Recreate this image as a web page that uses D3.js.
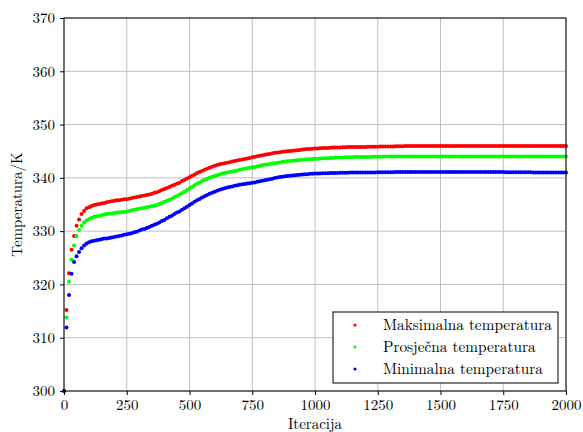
<!DOCTYPE html>
<html>
<head>
<meta charset="utf-8">
<script src="https://cdn.jsdelivr.net/npm/d3@7"></script>
<style>
  body { margin: 0; background: #fff; }
</style>
</head>
<body>
<script>
// Iterations, one point every 10 steps (0 .. 2000).
const iterations = d3.range(0, 2001, 10);

const maxTemp = [
  300.0, 315.2, 322.1, 326.5, 329.1, 331.0, 332.2, 333.2, 333.8, 334.3,
  334.5, 334.7, 334.9, 335.0, 335.1, 335.2, 335.3, 335.4, 335.5, 335.6,
  335.7, 335.8, 335.8, 335.9, 336.0, 336.0, 336.1, 336.2, 336.3, 336.4,
  336.5, 336.6, 336.7, 336.8, 336.9, 337.0, 337.2, 337.3, 337.5, 337.7,
  337.9, 338.1, 338.3, 338.5, 338.7, 338.9, 339.1, 339.4, 339.6, 339.9,
  340.1, 340.4, 340.6, 340.9, 341.1, 341.3, 341.5, 341.7, 341.9, 342.1,
  342.25, 342.4, 342.55, 342.65, 342.75, 342.85, 342.95, 343.05, 343.15, 343.25,
  343.35, 343.45, 343.55, 343.65, 343.75, 343.85, 343.95, 344.05, 344.15, 344.25,
  344.35, 344.45, 344.5, 344.6, 344.7, 344.75, 344.8, 344.9, 344.95, 345.0,
  345.05, 345.1, 345.15, 345.2, 345.25, 345.3, 345.35, 345.4, 345.4, 345.45,
  345.5, 345.5, 345.55, 345.6, 345.6, 345.6, 345.65, 345.7, 345.7, 345.7,
  345.7, 345.75, 345.75, 345.8, 345.8, 345.8, 345.8, 345.8, 345.8, 345.8,
  345.8, 345.85, 345.85, 345.85, 345.85, 345.85, 345.9, 345.9, 345.9, 345.9,
  345.9, 345.9, 345.95, 345.95, 345.95, 345.95, 346.0, 346.0, 346.0, 346.0,
  346.0, 346.0, 346.0, 346.0, 346.0, 346.0, 346.0, 346.0, 346.0, 346.0,
  346.0, 346.0, 346.0, 346.0, 346.0, 346.0, 346.0, 346.0, 346.0, 346.0,
  346.0, 346.0, 346.0, 346.0, 346.0, 346.0, 346.0, 346.0, 346.0, 346.0,
  346.0, 346.0, 346.0, 346.0, 346.0, 346.0, 346.0, 346.0, 346.0, 346.0,
  346.0, 346.0, 346.0, 346.0, 346.0, 346.0, 346.0, 346.0, 346.0, 346.0,
  346.0, 346.0, 346.0, 346.0, 346.0, 346.0, 346.0, 346.0, 346.0, 346.0,
  346.0
];

const avgTemp = [
  300.0, 313.8, 320.5, 324.7, 327.3, 329.1, 330.2, 331.0, 331.6, 332.0,
  332.3, 332.5, 332.7, 332.8, 332.9, 333.0, 333.1, 333.2, 333.3, 333.3,
  333.4, 333.5, 333.5, 333.6, 333.6, 333.7, 333.8, 333.9, 334.0, 334.1,
  334.2, 334.3, 334.4, 334.5, 334.6, 334.7, 334.8, 334.9, 335.1, 335.3,
  335.5, 335.7, 335.9, 336.1, 336.4, 336.6, 336.9, 337.1, 337.4, 337.7,
  338.0, 338.3, 338.6, 338.9, 339.15, 339.4, 339.6, 339.8, 340.0, 340.2,
  340.35, 340.5, 340.65, 340.8, 340.9, 341.0, 341.1, 341.2, 341.3, 341.4,
  341.5, 341.6, 341.7, 341.8, 341.9, 342.0, 342.05, 342.15, 342.25, 342.35,
  342.45, 342.5, 342.6, 342.7, 342.75, 342.85, 342.9, 343.0, 343.05, 343.1,
  343.15, 343.2, 343.25, 343.3, 343.35, 343.4, 343.45, 343.5, 343.5, 343.55,
  343.6, 343.6, 343.65, 343.7, 343.7, 343.7, 343.75, 343.75, 343.8, 343.8,
  343.8, 343.8, 343.85, 343.85, 343.85, 343.85, 343.9, 343.9, 343.9, 343.9,
  343.9, 343.9, 343.9, 343.95, 343.95, 343.95, 343.95, 344.0, 344.0, 344.0,
  344.0, 344.0, 344.0, 344.0, 344.0, 344.0, 344.0, 344.0, 344.0, 344.0,
  344.0, 344.0, 344.0, 344.0, 344.0, 344.0, 344.0, 344.0, 344.0, 344.0,
  344.0, 344.0, 344.0, 344.0, 344.0, 344.0, 344.0, 344.0, 344.0, 344.0,
  344.0, 344.0, 344.0, 344.0, 344.0, 344.0, 344.0, 344.0, 344.0, 344.0,
  344.0, 344.0, 344.0, 344.0, 344.0, 344.0, 344.0, 344.0, 344.0, 344.0,
  344.0, 344.0, 344.0, 344.0, 344.0, 344.0, 344.0, 344.0, 344.0, 344.0,
  344.0, 344.0, 344.0, 344.0, 344.0, 344.0, 344.0, 344.0, 344.0, 344.0,
  344.0
];

const minTemp = [
  300.0, 311.9, 318.0, 322.0, 324.2, 325.3, 326.1, 326.8, 327.3, 327.7,
  327.9, 328.1, 328.2, 328.3, 328.4, 328.5, 328.6, 328.6, 328.7, 328.8,
  328.9, 329.0, 329.1, 329.2, 329.3, 329.4, 329.5, 329.6, 329.8, 329.9,
  330.1, 330.3, 330.4, 330.6, 330.8, 331.0, 331.2, 331.4, 331.6, 331.9,
  332.1, 332.4, 332.7, 332.9, 333.2, 333.5, 333.7, 334.0, 334.3, 334.6,
  334.9, 335.2, 335.5, 335.8, 336.05, 336.3, 336.55, 336.8, 337.0, 337.2,
  337.4, 337.6, 337.75, 337.9, 338.05, 338.2, 338.3, 338.4, 338.5, 338.6,
  338.7, 338.8, 338.85, 338.95, 339.0, 339.1, 339.15, 339.25, 339.35, 339.45,
  339.55, 339.65, 339.75, 339.85, 339.95, 340.05, 340.15, 340.2, 340.3, 340.35,
  340.4, 340.45, 340.5, 340.55, 340.6, 340.65, 340.7, 340.7, 340.75, 340.75,
  340.8, 340.8, 340.8, 340.85, 340.85, 340.85, 340.9, 340.9, 340.9, 340.9,
  340.95, 340.95, 340.95, 340.95, 341.0, 341.0, 341.0, 341.0, 341.0, 341.0,
  341.0, 341.0, 341.0, 341.0, 341.0, 341.05, 341.05, 341.05, 341.05, 341.05,
  341.05, 341.05, 341.1, 341.1, 341.1, 341.1, 341.1, 341.1, 341.1, 341.1,
  341.1, 341.1, 341.1, 341.1, 341.1, 341.1, 341.1, 341.1, 341.1, 341.1,
  341.1, 341.1, 341.1, 341.1, 341.1, 341.1, 341.1, 341.1, 341.1, 341.1,
  341.1, 341.1, 341.1, 341.1, 341.1, 341.1, 341.1, 341.1, 341.1, 341.1,
  341.1, 341.1, 341.1, 341.1, 341.1, 341.1, 341.05, 341.05, 341.05, 341.05,
  341.05, 341.05, 341.05, 341.05, 341.05, 341.05, 341.05, 341.0, 341.0, 341.0,
  341.0, 341.0, 341.0, 341.0, 341.0, 341.0, 341.0, 341.0, 341.0, 341.0,
  341.0
];

const seriesNames = ['Maksimalna temperatura', 'Prosječna temperatura', 'Minimalna temperatura'];
const seriesColors = ['#ff0000', '#00ff00', '#0000ff'];
const seriesValues = [maxTemp, avgTemp, minTemp];

const xTicks = [0, 250, 500, 750, 1000, 1250, 1500, 1750, 2000];
const yTicks = [300, 310, 320, 330, 340, 350, 360, 370];

const font = 'Latin Modern Roman';
const width = 583;
const height = 432;
const margin = {top: 18, right: 17, bottom: 41, left: 64};

const svg = d3.select('body')
  .append('svg')
  .attr('width', width)
  .attr('height', height);

const xScale = d3.scaleLinear()
  .domain([0, 2000])
  .range([margin.left, width - margin.right]);
const yScale = d3.scaleLinear()
  .domain([300, 370])
  .range([height - margin.bottom, margin.top]);

// Grid.
svg.append('g')
  .selectAll('line')
  .data(xTicks)
  .enter()
  .append('line')
  .attr('x1', (d) => xScale(d))
  .attr('x2', (d) => xScale(d))
  .attr('y1', margin.top)
  .attr('y2', height - margin.bottom)
  .attr('stroke', '#bfbfbf')
  .attr('stroke-width', 1);
svg.append('g')
  .selectAll('line')
  .data(yTicks)
  .enter()
  .append('line')
  .attr('x1', margin.left)
  .attr('x2', width - margin.right)
  .attr('y1', (d) => yScale(d))
  .attr('y2', (d) => yScale(d))
  .attr('stroke', '#bfbfbf')
  .attr('stroke-width', 1);

// Points, red first, blue on top.
seriesValues.forEach((values, s) =>
{
  svg.append('g')
    .selectAll('circle')
    .data(values)
    .enter()
    .append('circle')
    .attr('cx', (d, i) => xScale(iterations[i]))
    .attr('cy', (d) => yScale(d))
    .attr('r', 2)
    .attr('fill', seriesColors[s]);
});

// Frame.
svg.append('rect')
  .attr('x', margin.left)
  .attr('y', margin.top)
  .attr('width', width - margin.left - margin.right)
  .attr('height', height - margin.top - margin.bottom)
  .attr('fill', 'none')
  .attr('stroke', '#000')
  .attr('stroke-width', 1);

// Axes.
const xAxis = d3.axisBottom(xScale)
  .tickValues(xTicks)
  .tickFormat(d3.format('d'))
  .tickSize(4)
  .tickPadding(4);
const yAxis = d3.axisLeft(yScale)
  .tickValues(yTicks)
  .tickFormat(d3.format('d'))
  .tickSize(4)
  .tickPadding(5);

svg.append('g')
  .attr('transform', 'translate(0, ' + (height - margin.bottom) + ')')
  .call(xAxis)
  .call((g) => g.select('.domain').remove())
  .selectAll('text')
  .attr('font-family', font)
  .attr('font-size', 15)
  .attr('fill', '#000');

svg.append('g')
  .attr('transform', 'translate(' + margin.left + ', 0)')
  .call(yAxis)
  .call((g) => g.select('.domain').remove())
  .selectAll('text')
  .attr('font-family', font)
  .attr('font-size', 15)
  .attr('fill', '#000');

// Axis titles.
svg.append('text')
  .attr('x', (margin.left + width - margin.right) / 2)
  .attr('y', 429)
  .attr('text-anchor', 'middle')
  .attr('font-family', font)
  .attr('font-size', 15)
  .text('Iteracija');

svg.append('text')
  .attr('transform', 'translate(22, ' + ((margin.top + height - margin.bottom) / 2) + ') rotate(-90)')
  .attr('text-anchor', 'middle')
  .attr('font-family', font)
  .attr('font-size', 15)
  .text('Temperatura/K');

// Legend.
const legend = svg.append('g')
  .attr('transform', 'translate(333, 312)');
legend.append('rect')
  .attr('width', 225)
  .attr('height', 71)
  .attr('fill', '#fff')
  .attr('stroke', '#000')
  .attr('stroke-width', 1);
seriesNames.forEach((name, i) =>
{
  legend.append('circle')
    .attr('cx', 22)
    .attr('cy', 13 + i * 22)
    .attr('r', 1.6)
    .attr('fill', seriesColors[i]);
  legend.append('text')
    .attr('x', 50)
    .attr('y', 18 + i * 22)
    .attr('font-family', font)
    .attr('font-size', 15.3)
    .text(name);
});
</script>
</body>
</html>
